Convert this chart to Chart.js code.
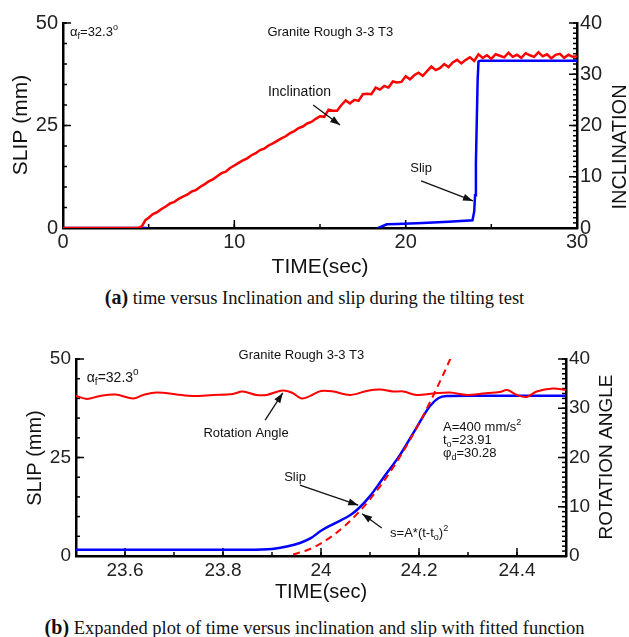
<!DOCTYPE html>
<html>
<head>
<meta charset="utf-8">
<script src="https://cdn.jsdelivr.net/npm/chart.js@4.4.0/dist/chart.umd.min.js"></script>
<style>
  html, body { margin: 0; padding: 0; background: #fff; }
  body { width: 629px; height: 637px; position: relative; overflow: hidden; }
  canvas { position: absolute; left: 0; }
  #chartA { top: 0; }
  #chartB { top: 330px; }
  .caption { position: absolute; left: 0; width: 629px; text-align: center; white-space: nowrap;
             font-family: "Liberation Serif", "Times New Roman", serif; font-size: 18.5px; line-height: 20px; color: #111; }
  .caption b { font-size: 20px; }
</style>
</head>
<body>
<canvas id="chartA" width="629" height="280"></canvas>
<div class="caption" style="top:287px"><b>(a)</b> time versus Inclination and slip during the tilting test</div>
<canvas id="chartB" width="629" height="280"></canvas>
<div class="caption" style="top:617px"><b>(b)</b> Expanded plot of time versus inclination and slip with fitted function</div>
<script>
const FONT = '"Liberation Sans", Arial, sans-serif';

// ---- (a) whole tilting test ----
const xTicksA = [0, 10, 20, 30];
const slipTicksA = [0, 25, 50];
const inclTicksA = [0, 10, 20, 30, 40];

const inclTimeA = [0, 4.4, 4.6, 4.8,
  5, 5.25, 5.5, 5.75, 6, 6.25, 6.5, 6.75, 7, 7.25, 7.5, 7.75, 8, 8.25, 8.5, 8.75,
  9, 9.25, 9.5, 9.75, 10, 10.25, 10.5, 10.75, 11, 11.25, 11.5, 11.75, 12, 12.25, 12.5, 12.75,
  13, 13.25, 13.5, 13.75, 14, 14.25, 14.5, 14.75, 15, 15.25, 15.5, 15.75, 16, 16.25, 16.5, 16.75,
  17, 17.25, 17.5, 17.75, 18, 18.25, 18.5, 18.75, 19, 19.25, 19.5, 19.75, 20, 20.25, 20.5, 20.75,
  21, 21.25, 21.5, 21.75, 22, 22.25, 22.5, 22.75, 23, 23.25, 23.5, 23.75, 24, 24.25, 24.5, 24.75,
  25, 25.25, 25.5, 25.75, 26, 26.25, 26.5, 26.75, 27, 27.25, 27.5, 27.75, 28, 28.25, 28.5, 28.75,
  29, 29.25, 29.5, 29.75, 30];
const inclA = [0, 0, 0.3, 1.5,
  2.0, 2.7, 3.1, 3.7, 4.2, 4.8, 5.1, 5.7, 6.1, 6.5, 7.1, 7.4, 8.0, 8.5, 9.1, 9.5,
  10.1, 10.7, 11.0, 11.7, 12.2, 12.7, 13.2, 13.6, 14.2, 14.6, 15.2, 15.5, 16.1, 16.5, 17.0, 17.5,
  17.9, 18.5, 18.9, 19.5, 19.8, 20.4, 20.7, 21.3, 21.8, 21.7, 23.1, 22.9, 22.9, 24.0, 24.9, 24.3,
  25.0, 24.8, 26.1, 26.2, 26.1, 27.4, 27.0, 27.7, 27.4, 28.6, 28.4, 28.5, 29.6, 29.0, 29.8, 30.3,
  29.7, 30.6, 31.5, 30.8, 31.2, 32.0, 31.4, 32.3, 32.8, 32.1, 32.8, 33.3, 32.6, 33.9, 33.2, 33.7,
  33.0, 33.9, 33.6, 33.3, 34.2, 33.4, 33.8, 33.2, 34.1, 33.7, 33.4, 34.3, 33.5, 33.9, 33.1, 33.8,
  34.0, 33.2, 33.8, 33.4, 33.5];

const slipTimeA = [0, 4.9, 5, 18.4, 18.9, 19.5, 21, 22.5, 23.9, 24.0, 24.05, 24.1, 24.15, 24.2, 24.25, 24.35, 30];
const slipA = [0, 0, null, 0, 0.9, 1.0, 1.2, 1.5, 1.9, 4, 8, 16, 26, 36, 40.6, 40.8, 40.8];

// ---- (b) expanded view around slip ----
const xTicksB = [23.6, 23.8, 24, 24.2, 24.4];
const slipTicksB = [0, 25, 50];
const rotTicksB = [0, 10, 20, 30, 40];

const rotTimeB = [23.5, 23.522, 23.549, 23.58, 23.617, 23.637, 23.665, 23.705, 23.739, 23.78, 23.82, 23.84,
  23.868, 23.889, 23.921, 23.94, 23.96, 23.978, 24.0, 24.025, 24.059, 24.093, 24.12, 24.147, 24.168,
  24.195, 24.229, 24.263, 24.298, 24.331, 24.365, 24.38, 24.4, 24.42, 24.44, 24.473, 24.5];
const rotB = [32.5, 31.9, 32.5, 32.8, 32.0, 32.7, 33.2, 32.8, 32.5, 32.7, 32.9, 33.4,
  32.7, 32.7, 33.6, 33.2, 32.0, 32.5, 33.5, 33.4, 32.7, 33.5, 33.8, 33.4, 33.4,
  32.7, 33.0, 33.2, 32.7, 33.0, 33.3, 33.7, 32.7, 32.3, 33.4, 34.0, 33.7];

const slipTimeB = [23.5, 23.85, 23.9, 23.93, 23.957, 23.98, 24.0, 24.025, 24.06, 24.076, 24.1, 24.127,
  24.161, 24.195, 24.222, 24.24, 24.257, 24.3, 24.5];
const slipB = [1.6, 1.6, 1.8, 2.4, 3.3, 4.6, 6.4, 8.1, 10.4, 12.0, 15.2, 19.8,
  25.6, 32.6, 38.0, 40.1, 40.6, 40.7, 40.7];

const fitTimeB = [23.943, 23.97, 24.0, 24.05, 24.1, 24.15, 24.2, 24.25, 24.27];
const fitB = [0.4, 1.4, 3.2, 7.8, 14.4, 23.0, 33.6, 46.2, 51.8];

function pts(xs, ys) { return xs.map((x, i) => ({ x: x, y: ys[i] })); }

function richText(ctx, x, y, parts, size, align) {
  const small = Math.round(size * 0.7);
  let w = 0;
  parts.forEach(([t, k]) => { ctx.font = (k ? small : size) + 'px ' + FONT; w += ctx.measureText(t).width; });
  let cx = align === 'center' ? x - w / 2 : x;
  ctx.textAlign = 'left';
  parts.forEach(([t, k]) => {
    ctx.font = (k ? small : size) + 'px ' + FONT;
    const dy = k === 'sub' ? size * 0.3 : k === 'sup' ? -size * 0.38 : 0;
    ctx.fillText(t, cx, y + dy);
    cx += ctx.measureText(t).width;
  });
}

function arrow(ctx, x1, y1, x2, y2) {
  ctx.beginPath(); ctx.moveTo(x1, y1); ctx.lineTo(x2, y2); ctx.stroke();
  const a = Math.atan2(y2 - y1, x2 - x1), L = 10, W = 3.5;
  ctx.beginPath();
  ctx.moveTo(x2, y2);
  ctx.lineTo(x2 - L * Math.cos(a) + W * Math.sin(a), y2 - L * Math.sin(a) - W * Math.cos(a));
  ctx.lineTo(x2 - L * Math.cos(a) - W * Math.sin(a), y2 - L * Math.sin(a) + W * Math.cos(a));
  ctx.closePath(); ctx.fill();
}

// inward tick marks, axis titles, labels and arrows
function makeDecor(cfg) {
  return {
    id: 'decor',
    beforeDatasetsDraw(chart) {
      const ctx = chart.ctx, a = chart.chartArea;
      ctx.save();
      ctx.strokeStyle = '#000';
      ctx.lineWidth = 1.5;
      Object.keys(cfg.minor).forEach(id => {
        const s = chart.scales[id];
        const draw = (v, len) => {
          const p = s.getPixelForValue(v);
          ctx.beginPath();
          if (id === 'x') { ctx.moveTo(p, a.bottom); ctx.lineTo(p, a.bottom - len); }
          else if (s.position === 'left') { ctx.moveTo(a.left, p); ctx.lineTo(a.left + len, p); }
          else { ctx.moveTo(a.right, p); ctx.lineTo(a.right - len, p); }
          ctx.stroke();
        };
        const step = cfg.minor[id], n = Math.round((s.max - s.min) / step);
        for (let i = 0; i <= n; i++) draw(s.min + i * step, 4);
        s.ticks.forEach(t => draw(t.value, 8));
      });
      ctx.restore();
    },
    afterDatasetsDraw(chart) {
      const ctx = chart.ctx, x = chart.scales.x, y = chart.scales.y;
      ctx.save();
      ctx.fillStyle = '#111';
      ctx.strokeStyle = '#111';
      ctx.textBaseline = 'middle';
      cfg.titles.forEach(t => {
        ctx.save();
        ctx.translate(t.x, t.y);
        ctx.rotate(t.rot * Math.PI / 180);
        ctx.font = t.size + 'px ' + FONT;
        ctx.textAlign = 'center';
        ctx.fillText(t.text, 0, 0);
        ctx.restore();
      });
      cfg.notes.forEach(n => {
        richText(ctx, x.getPixelForValue(n.t), y.getPixelForValue(n.v), n.parts, n.size, n.align);
      });
      ctx.lineWidth = 1.3;
      cfg.arrows.forEach(r => {
        arrow(ctx, x.getPixelForValue(r[0]), y.getPixelForValue(r[1]), x.getPixelForValue(r[2]), y.getPixelForValue(r[3]));
      });
      ctx.restore();
    }
  };
}

function axisX(min, max, ticks, height, size, pad) {
  return {
    type: 'linear', min: min, max: max,
    afterBuildTicks: s => { s.ticks = ticks.map(v => ({ value: v })); },
    afterFit: s => { s.height = height; },
    grid: { display: false, drawTicks: false },
    border: { display: true, color: '#000', width: 2.5 },
    ticks: { color: '#222', padding: pad, maxRotation: 0, autoSkip: false,
             font: { family: FONT, size: size }, callback: v => String(Math.round(v * 10) / 10) }
  };
}

function axisY(pos, min, max, ticks, width, size, pad) {
  return {
    type: 'linear', position: pos, min: min, max: max,
    afterBuildTicks: s => { s.ticks = ticks.map(v => ({ value: v })); },
    afterFit: s => { s.width = width; },
    grid: { display: false, drawTicks: false },
    border: { display: true, color: '#000', width: 2.5 },
    ticks: { color: '#222', padding: pad, autoSkip: false, font: { family: FONT, size: size } }
  };
}

const commonPlugins = { legend: { display: false }, tooltip: { enabled: false } };

new Chart(document.getElementById('chartA'), {
  type: 'line',
  data: {
    datasets: [
      { data: pts(inclTimeA, inclA), yAxisID: 'y2', borderColor: '#ff0000', borderWidth: 2.5 },
      { data: pts(slipTimeA, slipA), yAxisID: 'y', borderColor: '#0000ff', borderWidth: 2.5 }
    ]
  },
  options: {
    responsive: false, animation: false,
    layout: { padding: { left: 13, top: 23, right: 0, bottom: 0 } },
    elements: { point: { radius: 0 }, line: { tension: 0 } },
    scales: {
      x: axisX(0, 30, xTicksA, 52, 20, 2),
      y: axisY('left', 0, 50, slipTicksA, 50, 20, 5),
      y2: axisY('right', 0, 40, inclTicksA, 52, 20, 3)
    },
    plugins: commonPlugins
  },
  plugins: [makeDecor({
    minor: { x: 5, y: 5, y2: 1 },
    titles: [
      { text: 'SLIP (mm)', x: 21, y: 125, rot: -90, size: 21 },
      { text: 'INCLINATION', x: 620, y: 147, rot: -90, size: 20 },
      { text: 'TIME(sec)', x: 320, y: 267, rot: 0, size: 21 }
    ],
    notes: [
      { parts: [['α', ''], ['f', 'sub'], ['=32.3', ''], ['o', 'sup']], t: 0.41, v: 47.6, size: 13, align: 'left' },
      { parts: [['Granite Rough 3-3 T3', '']], t: 15.6, v: 47.6, size: 13, align: 'center' },
      { parts: [['Inclination', '']], t: 13.8, v: 33.2, size: 14, align: 'center' },
      { parts: [['Slip', '']], t: 20.9, v: 14.6, size: 13, align: 'center' }
    ],
    arrows: [[14.6, 30.0, 16.17, 25.1], [20.9, 11.5, 23.93, 6.6]]
  })]
});

new Chart(document.getElementById('chartB'), {
  type: 'line',
  data: {
    datasets: [
      { data: pts(rotTimeB, rotB), yAxisID: 'y2', borderColor: '#ff0000', borderWidth: 2, tension: 0.35 },
      { data: pts(fitTimeB, fitB), yAxisID: 'y', borderColor: '#ff0000', borderWidth: 2, borderDash: [7, 5], cubicInterpolationMode: 'monotone' },
      { data: pts(slipTimeB, slipB), yAxisID: 'y', borderColor: '#0000ff', borderWidth: 2.5, cubicInterpolationMode: 'monotone' }
    ]
  },
  options: {
    responsive: false, animation: false,
    layout: { padding: { left: 26, top: 29, right: 0, bottom: 0 } },
    elements: { point: { radius: 0 } },
    scales: {
      x: axisX(23.5, 24.5, xTicksB, 54, 19, 3),
      y: axisY('left', 0, 50, slipTicksB, 50, 19, 5),
      y2: axisY('right', 0, 40, rotTicksB, 63, 19, 3)
    },
    plugins: commonPlugins
  },
  plugins: [makeDecor({
    minor: { x: 0.1, y: 5, y2: 1 },
    titles: [
      { text: 'SLIP (mm)', x: 35, y: 128, rot: -90, size: 20 },
      { text: 'ROTATION ANGLE', x: 607, y: 127, rot: -90, size: 19 },
      { text: 'TIME(sec)', x: 321, y: 262, rot: 0, size: 20 }
    ],
    notes: [
      { parts: [['Granite Rough 3-3 T3', '']], t: 23.96, v: 51.0, size: 13, align: 'center' },
      { parts: [['α', ''], ['f', 'sub'], ['=32.3', ''], ['o', 'sup']], t: 23.522, v: 45.2, size: 14, align: 'left' },
      { parts: [['Rotation Angle', '']], t: 23.847, v: 31.2, size: 13, align: 'center' },
      { parts: [['Slip', '']], t: 23.947, v: 20.0, size: 13, align: 'center' },
      { parts: [['s=A*(t-t', ''], ['o', 'sub'], [')', ''], ['2', 'sup']], t: 24.141, v: 5.8, size: 13, align: 'left' },
      { parts: [['A=400 mm/s', ''], ['2', 'sup']], t: 24.249, v: 32.7, size: 13, align: 'left' },
      { parts: [['t', ''], ['o', 'sub'], ['=23.91', '']], t: 24.249, v: 29.4, size: 13, align: 'left' },
      { parts: [['φ', ''], ['d', 'sub'], ['=30.28', '']], t: 24.249, v: 26.1, size: 13, align: 'left' }
    ],
    arrows: [[23.886, 34.5, 23.922, 41.4], [23.957, 18.0, 24.076, 12.9], [24.124, 7.1, 24.084, 10.7]]
  })]
});
</script>
</body>
</html>
